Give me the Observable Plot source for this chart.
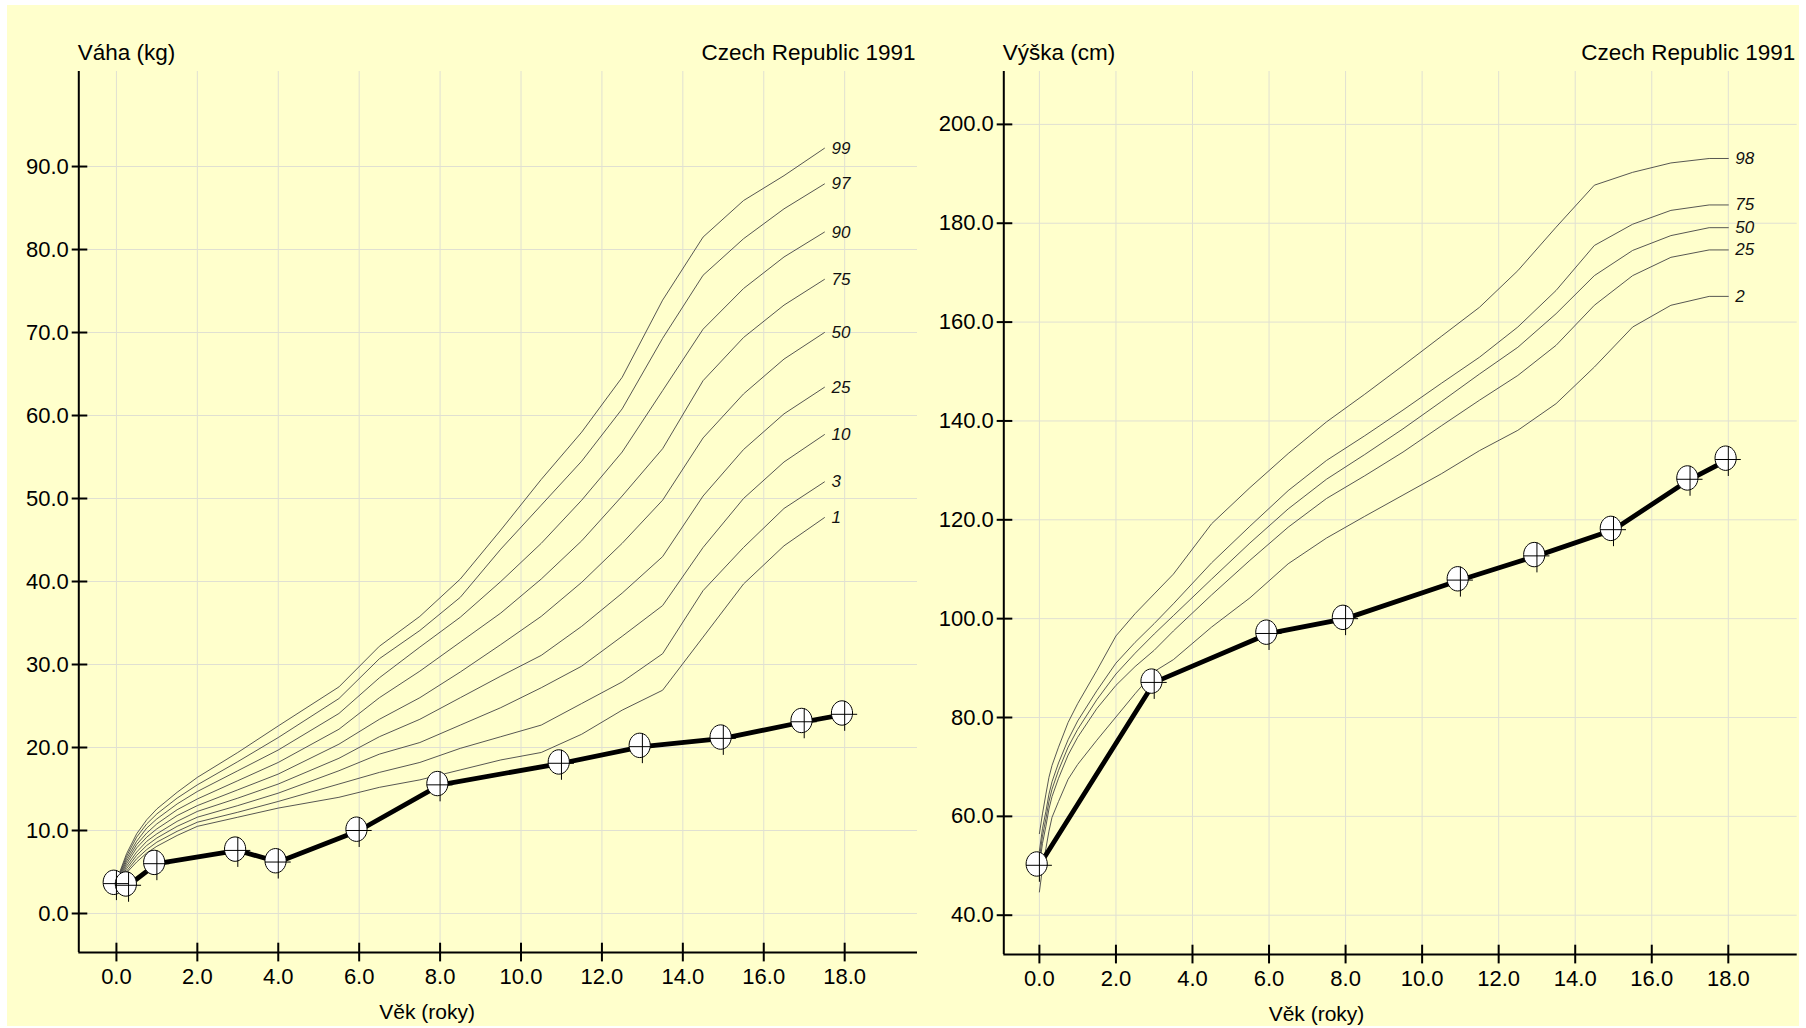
<!DOCTYPE html>
<html><head><meta charset="utf-8">
<script src="https://cdn.jsdelivr.net/npm/d3@7"></script>
<script src="https://cdn.jsdelivr.net/npm/@observablehq/plot@0.6"></script>
<style>
html,body{margin:0;padding:0;background:#ffffff;width:1806px;height:1028px;overflow:hidden;font-family:"Liberation Sans",Arial,sans-serif;}
#bg{position:absolute;left:7px;top:5px;width:1792px;height:1021px;background:#ffffcc;}
#left{position:absolute;left:0;top:0;width:925px;height:1028px;}
#right{position:absolute;left:925px;top:0;width:881px;height:1028px;}
svg{background:transparent !important;}
</style></head><body>
<div id="bg"></div>
<div id="left"></div><div id="right"></div>
<script>
// ---------- Weight (Váha) percentile curves, Czech Republic 1991 ----------
const weightAges = [0, 0.25, 0.5, 0.75, 1, 1.5, 2, 3, 4, 5.5, 6.5, 7.5, 8.5, 9.5, 10.5, 11.5, 12.5, 13.5, 14.5, 15.5, 16.5, 17.5];
const w99 = [3.9, 7.2, 9.6, 11.3, 12.6, 14.6, 16.4, 19.4, 22.6, 27.3, 32.2, 35.8, 40.3, 46.2, 52.3, 58.0, 64.6, 73.9, 81.5, 85.9, 88.9, 92.2];
const w97 = [3.8, 6.9, 9.2, 10.8, 12.0, 13.9, 15.5, 18.3, 21.2, 25.9, 30.7, 34.1, 38.1, 43.9, 49.2, 54.5, 60.8, 69.3, 76.9, 81.3, 84.9, 87.9];
const w90 = [3.7, 6.6, 8.7, 10.3, 11.4, 13.2, 14.7, 17.2, 19.7, 24.1, 28.4, 32.1, 35.7, 40.0, 44.6, 49.8, 55.6, 63.0, 70.4, 75.3, 79.1, 82.1];
const w75 = [3.6, 6.3, 8.3, 9.7, 10.8, 12.5, 13.8, 16.0, 18.2, 22.2, 26.0, 29.2, 32.7, 36.2, 40.3, 44.9, 50.3, 56.0, 64.2, 69.4, 73.3, 76.4];
const w50 = [3.5, 6.0, 7.9, 9.2, 10.2, 11.8, 13.0, 14.9, 16.8, 20.4, 23.4, 26.0, 29.1, 32.4, 35.8, 39.9, 44.6, 49.8, 57.3, 62.6, 66.8, 70.0];
const w25 = [3.4, 5.7, 7.4, 8.7, 9.6, 11.1, 12.3, 13.9, 15.6, 18.7, 21.3, 23.4, 26.0, 28.6, 31.1, 34.6, 38.6, 43.0, 50.3, 55.9, 60.2, 63.4];
const w10 = [3.3, 5.4, 7.0, 8.2, 9.1, 10.5, 11.6, 13.0, 14.5, 17.2, 19.2, 20.6, 22.7, 24.8, 27.2, 29.8, 33.4, 37.1, 44.1, 50.0, 54.4, 57.7];
const w3  = [3.2, 5.1, 6.6, 7.7, 8.6, 9.9, 11.0, 12.2, 13.5, 15.6, 17.0, 18.2, 19.9, 21.3, 22.7, 25.3, 27.9, 31.3, 38.9, 44.1, 48.8, 52.0];
const w1  = [3.1, 4.9, 6.2, 7.3, 8.1, 9.4, 10.5, 11.6, 12.7, 14.0, 15.2, 16.1, 17.3, 18.5, 19.4, 21.6, 24.5, 26.9, 33.3, 39.7, 44.3, 47.7];
const weightLabels = ["99", "97", "90", "75", "50", "25", "10", "3", "1"];
const weightSeries = [w99, w97, w90, w75, w50, w25, w10, w3, w1];

// ---------- Height (Výška) percentile curves ----------
const heightAges = [0, 0.08, 0.17, 0.25, 0.33, 0.5, 0.75, 1, 1.5, 2, 2.5, 3, 3.5, 4.5, 5.5, 6.5, 7.5, 8.5, 9.5, 10.5, 11.5, 12.5, 13.5, 14.5, 15.5, 16.5, 17.5, 18];
const h98 = [56.5, 60.5, 64.5, 67.9, 70.3, 74.0, 79.0, 82.8, 89.5, 96.5, 101.0, 105.0, 109.0, 119.2, 126.5, 133.4, 139.8, 145.4, 151.2, 157.1, 163.0, 170.4, 179.2, 187.7, 190.3, 192.2, 193.1, 193.1];
const h75 = [53.0, 57.5, 61.0, 64.5, 67.0, 70.8, 75.5, 79.3, 85.4, 91.0, 95.2, 99.0, 103.0, 111.3, 118.7, 125.9, 132.0, 137.0, 142.2, 147.6, 152.9, 159.0, 166.4, 175.5, 179.8, 182.6, 183.7, 183.7];
const h50 = [51.5, 56.0, 59.5, 63.0, 65.5, 69.3, 74.0, 77.6, 83.6, 88.8, 93.0, 96.9, 100.6, 108.0, 115.3, 122.2, 128.2, 133.2, 138.4, 143.9, 149.5, 154.9, 161.7, 169.4, 174.5, 177.5, 179.1, 179.1];
const h25 = [50.0, 54.5, 58.0, 61.5, 64.0, 67.7, 72.4, 76.0, 81.8, 86.5, 90.3, 93.6, 97.5, 104.8, 111.8, 118.5, 124.3, 128.9, 133.7, 139.0, 144.2, 149.2, 155.3, 163.4, 169.4, 173.1, 174.6, 174.6];
const h2  = [44.7, 49.5, 53.5, 57.0, 59.8, 63.0, 67.5, 70.5, 75.4, 80.1, 84.8, 89.3, 91.7, 98.3, 104.2, 111.1, 116.3, 120.7, 125.0, 129.3, 134.0, 138.1, 143.5, 150.9, 159.0, 163.4, 165.2, 165.2];
const heightLabels = ["98", "75", "50", "25", "2"];
const heightSeries = [h98, h75, h50, h25, h2];

// ---------- Patient measurements ----------
const patientWeightAge = [0, 0.3, 1, 3, 4, 6, 8, 11, 13, 15, 17, 18];
const patientWeight    = [3.6, 3.4, 6.0, 7.6, 6.2, 10.0, 15.5, 18.1, 20.1, 21.1, 23.1, 24.0];
const patientHeightAge = [0, 3, 6, 8, 11, 13, 15, 17, 18];
const patientHeight    = [50.1, 87.1, 97.0, 100.0, 107.8, 112.7, 118.0, 128.2, 132.2];

// ---------- Ticks ----------
const ageTicks = [0, 2, 4, 6, 8, 10, 12, 14, 16, 18];
const weightTicks = [0, 10, 20, 30, 40, 50, 60, 70, 80, 90];
const heightTicks = [40, 60, 80, 100, 120, 140, 160, 180, 200];

// ---------- helpers ----------
function longTable(ages, series, labels) {
  const rows = [];
  series.forEach((vals, i) => vals.forEach((v, j) => rows.push({age: ages[j], value: v, p: labels[i]})));
  return rows;
}
function pointTable(ages, vals) { return ages.map((a, i) => ({age: a, value: vals[i]})); }

const K = 0.5523;
const ellipseSymbol = {
  draw(ctx) {
    const cx = -2.7, cy = -1.3, rx = 10.6, ry = 12.2;
    ctx.moveTo(cx + rx, cy);
    ctx.bezierCurveTo(cx + rx, cy + K * ry, cx + K * rx, cy + ry, cx, cy + ry);
    ctx.bezierCurveTo(cx - K * rx, cy + ry, cx - rx, cy + K * ry, cx - rx, cy);
    ctx.bezierCurveTo(cx - rx, cy - K * ry, cx - K * rx, cy - ry, cx, cy - ry);
    ctx.bezierCurveTo(cx + K * rx, cy - ry, cx + rx, cy - K * ry, cx + rx, cy);
    ctx.closePath();
  }
};
const crossSymbol = {
  draw(ctx) {
    ctx.moveTo(-13.3, 0); ctx.lineTo(12.5, 0);
    ctx.moveTo(0, -13.5); ctx.lineTo(0, 16.5);
  }
};

const fmt1 = d => d.toFixed(1);
const gridColor = "#e0e0d2";

function growthChart({width, marginRight, marginBottom, yDomain, yTicks, curves, points, yLabel, xLabelDx}) {
  const xDomain = [-0.93, 19.8];
  return Plot.plot({
    width, height: 1028,
    marginLeft: 78.3, marginRight, marginTop: 71, marginBottom,
    style: {fontFamily: "'Liberation Sans', Arial, sans-serif", fontSize: "22px", background: "transparent", color: "#000", overflow: "visible"},
    x: {domain: xDomain},
    y: {domain: yDomain},
    marks: [
      Plot.gridX(ageTicks, {stroke: gridColor, strokeOpacity: 1, strokeWidth: 1}),
      Plot.gridY(yTicks, {stroke: gridColor, strokeOpacity: 1, strokeWidth: 1}),
      Plot.line(curves, {x: "age", y: "value", z: "p", stroke: "#444", strokeWidth: 0.9}),
      Plot.text(curves, Plot.selectLast({x: "age", y: "value", z: "p", text: "p", dx: 7, textAnchor: "start", fontStyle: "italic", fontSize: 17, fill: "#111"})),
      Plot.line(points, {x: "age", y: "value", stroke: "#000", strokeWidth: 4.8, strokeLinejoin: "round"}),
      Plot.dot(points, {x: "age", y: "value", symbol: ellipseSymbol, r: 10, fill: "#ffffff", stroke: "#000", strokeWidth: 1}),
      Plot.dot(points, {x: "age", y: "value", symbol: crossSymbol, r: 10, fill: "none", stroke: "#000", strokeWidth: 1}),
      Plot.ruleX([xDomain[0]], {stroke: "#000", strokeWidth: 2}),
      Plot.ruleY([yDomain[0]], {stroke: "#000", strokeWidth: 2}),
      Plot.axisY(yTicks, {anchor: "left", tickSize: 0, tickPadding: 10, tickFormat: fmt1, label: null}),
      Plot.axisY(yTicks, {anchor: "left", tickSize: 15.6, dx: 9, fill: "none", strokeWidth: 2, label: null}),
      Plot.axisX(ageTicks, {anchor: "bottom", tickSize: 0, tickPadding: 15.5, tickFormat: fmt1, label: null}),
      Plot.axisX(ageTicks, {anchor: "bottom", tickSize: 18.7, dy: -9.3, fill: "none", strokeWidth: 2, label: null}),
      Plot.text([yLabel], {text: d => d, frameAnchor: "top-left", textAnchor: "start", lineAnchor: "bottom", dx: -1, dy: -12, fontSize: 22.5}),
      Plot.text(["Czech Republic 1991"], {text: d => d, frameAnchor: "top-right", textAnchor: "end", lineAnchor: "bottom", dx: -2, dy: -12, fontSize: 22.5}),
      Plot.text(["Věk (roky)"], {text: d => d, frameAnchor: "bottom", lineAnchor: "bottom", dx: xLabelDx, dy: 66, fontSize: 21})
    ]
  });
}

document.getElementById("left").appendChild(growthChart({
  width: 925, marginRight: 8, marginBottom: 76, yDomain: [-4.7, 101.45], yTicks: weightTicks,
  curves: longTable(weightAges, weightSeries, weightLabels),
  points: pointTable(patientWeightAge, patientWeight),
  yLabel: "Váha (kg)", xLabelDx: -71
}));
document.getElementById("right").appendChild(growthChart({
  width: 881, marginRight: 9.3, marginBottom: 74, yDomain: [32.05, 210.7], yTicks: heightTicks,
  curves: longTable(heightAges, heightSeries, heightLabels),
  points: pointTable(patientHeightAge, patientHeight),
  yLabel: "Výška (cm)", xLabelDx: -84
}));
</script>
</body></html>
